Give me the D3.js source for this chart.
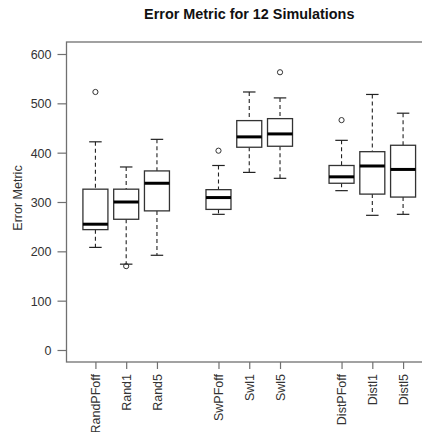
<!DOCTYPE html>
<html><head><meta charset="utf-8">
<script src="https://cdn.jsdelivr.net/npm/d3@7"></script>
<style>body{margin:0;background:#fff}svg{display:block}</style>
</head><body>
<svg id="c" width="422" height="432"></svg>
<script>
const categories = ["RandPFoff","Rand1","Rand5","SwPFoff","Swl1","Swl5","DistPFoff","Distl1","Distl5"];
const positions  = [1,2,3,5,6,7,9,10,11];
const lowerWhisker = [208,174,192,275,360,348,323,273,275];
const q1           = [244,265,282,285,411,413,338,316,310];
const median       = [255,300,338,309,432,438,351,373,366];
const q3           = [326,326,363,325,465,469,374,402,415];
const upperWhisker = [422,371,427,374,523,511,425,518,480];
const outliers     = [[523],[170],[],[404],[],[563],[466],[],[]];
const yTicks = [0,100,200,300,400,500,600];
const title = "Error Metric for 12 Simulations";
const yLabel = "Error Metric";

const svg = d3.select("#c");
const L = 66.5, T = 42, B = 362, R = 432;
const x = d3.scaleLinear().domain([0.06, 11.94]).range([L, R]);
const y = d3.scaleLinear().domain([0, 600]).range([350, 54]);
const boxW = 25, capW = 12.5;
const font = "Liberation Sans, Arial, sans-serif";
const axisCol = "#707070";

// frame
svg.append("rect").attr("x", L).attr("y", T).attr("width", R - L).attr("height", B - T)
  .attr("fill", "none").attr("stroke", axisCol).attr("stroke-width", 1.3);

// y axis
const gy = svg.append("g").attr("transform", `translate(${L},0)`)
  .call(d3.axisLeft(y).tickValues(yTicks).tickSize(9).tickSizeOuter(0));
gy.select(".domain").remove();
gy.selectAll(".tick line").attr("stroke", axisCol).attr("stroke-width", 1.2);
gy.selectAll(".tick text").attr("font-family", font).attr("font-size", 12.5).attr("fill", "#333").attr("x", -15).attr("dy", "0.35em");

// x axis
const xa = d3.axisBottom(x).tickValues(positions).tickSize(7).tickFormat((d, i) => categories[i]);
const gx = svg.append("g").attr("transform", `translate(0,${B})`).call(xa);
gx.select(".domain").remove();
gx.selectAll(".tick line").attr("stroke", axisCol).attr("stroke-width", 1.2);
gx.selectAll(".tick text").attr("font-family", font).attr("font-size", 12.5).attr("fill", "#333")
  .attr("transform", "rotate(-90)").attr("text-anchor", "end").attr("x", -12).attr("y", 0).attr("dy", "0.35em");

// boxes
const data = categories.map((c, i) => ({c, p: positions[i], lo: lowerWhisker[i], q1: q1[i], med: median[i], q3: q3[i], hi: upperWhisker[i], out: outliers[i]}));
const g = svg.append("g");
const bx = g.selectAll("g.box").data(data).join("g").attr("class", "box");
const lineCol = "#222";
bx.append("line").attr("x1", d => x(d.p)).attr("x2", d => x(d.p)).attr("y1", d => y(d.hi)).attr("y2", d => y(d.q3))
  .attr("stroke", lineCol).attr("stroke-width", 1.1).attr("stroke-dasharray", "4,3");
bx.append("line").attr("x1", d => x(d.p)).attr("x2", d => x(d.p)).attr("y1", d => y(d.q1)).attr("y2", d => y(d.lo))
  .attr("stroke", lineCol).attr("stroke-width", 1.1).attr("stroke-dasharray", "4,3");
bx.append("line").attr("x1", d => x(d.p) - capW / 2).attr("x2", d => x(d.p) + capW / 2).attr("y1", d => y(d.hi)).attr("y2", d => y(d.hi))
  .attr("stroke", lineCol).attr("stroke-width", 1.2);
bx.append("line").attr("x1", d => x(d.p) - capW / 2).attr("x2", d => x(d.p) + capW / 2).attr("y1", d => y(d.lo)).attr("y2", d => y(d.lo))
  .attr("stroke", lineCol).attr("stroke-width", 1.2);
bx.append("rect").attr("x", d => x(d.p) - boxW / 2).attr("width", boxW)
  .attr("y", d => y(d.q3)).attr("height", d => y(d.q1) - y(d.q3))
  .attr("fill", "#fff").attr("stroke", "#333").attr("stroke-width", 1.3);
bx.append("line").attr("x1", d => x(d.p) - boxW / 2).attr("x2", d => x(d.p) + boxW / 2).attr("y1", d => y(d.med)).attr("y2", d => y(d.med))
  .attr("stroke", "#000").attr("stroke-width", 3);
bx.selectAll("circle").data(d => d.out.map(v => ({p: d.p, v}))).join("circle")
  .attr("cx", d => x(d.p)).attr("cy", d => y(d.v)).attr("r", 2.6)
  .attr("fill", "none").attr("stroke", "#333").attr("stroke-width", 1);

// title
svg.append("text").attr("x", (L + R) / 2).attr("y", 19).attr("text-anchor", "middle")
  .attr("font-family", font).attr("font-weight", "bold").attr("font-size", 14.4).attr("fill", "#111").text(title);
// y label
svg.append("text").attr("transform", `translate(22,${(T + B) / 2 - 4}) rotate(-90)`).attr("text-anchor", "middle")
  .attr("font-family", font).attr("font-size", 12.5).attr("fill", "#333").text(yLabel);
</script>
</body></html>
